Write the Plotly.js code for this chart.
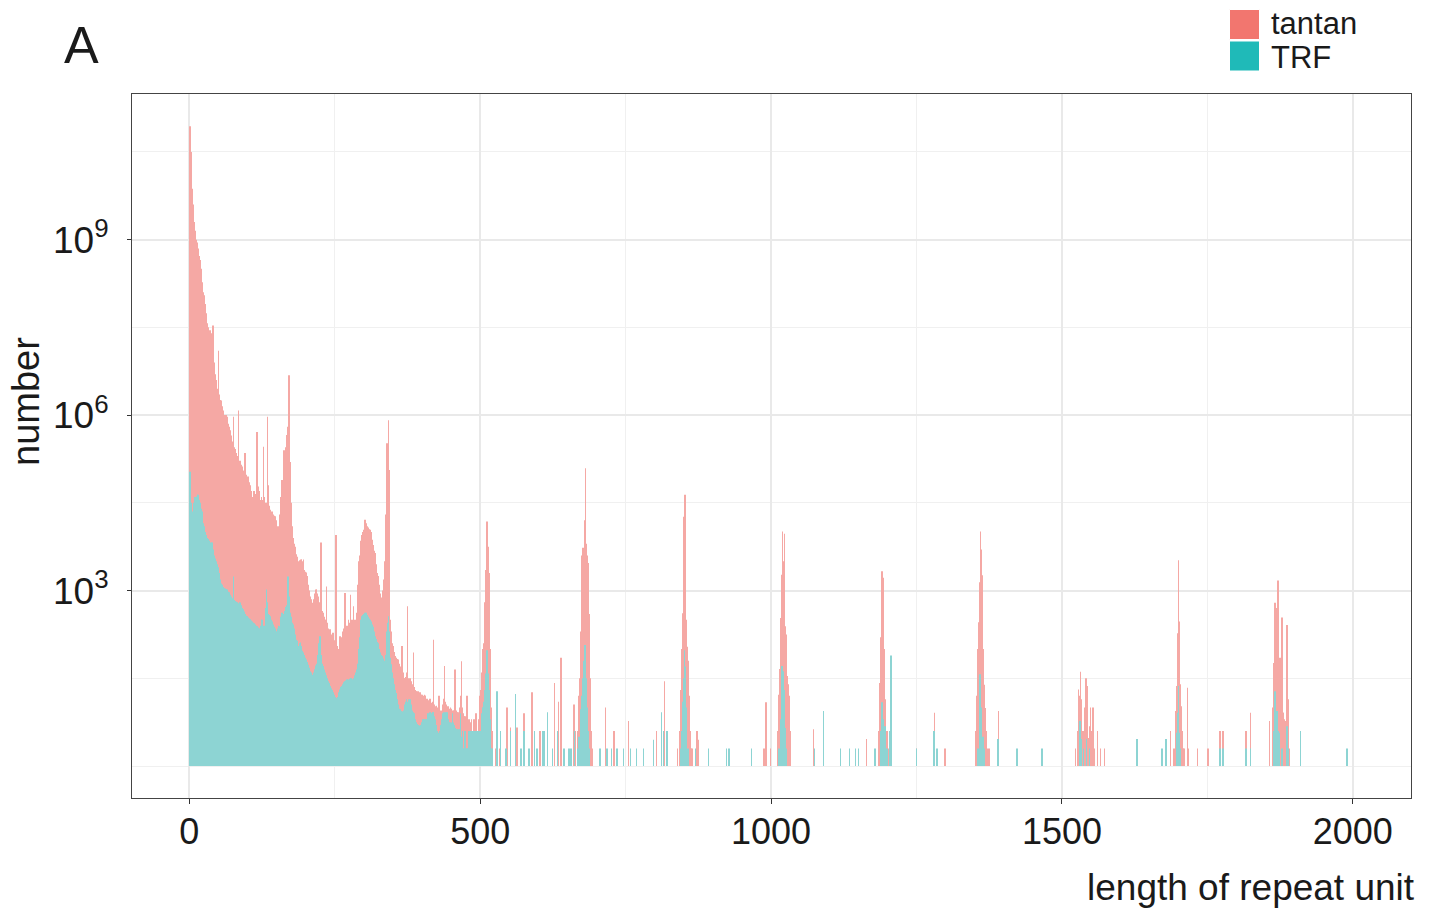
<!DOCTYPE html>
<html>
<head>
<meta charset="utf-8">
<script src="https://cdn.plot.ly/plotly-3.0.1.min.js"></script>
<style>html,body{margin:0;padding:0;background:#fff;}#chart{width:1431px;height:913px;}</style>
</head>
<body>
<div id="chart"></div>
<script>
// ---- data: log10(number) per length of repeat unit ----
// dense part: lengths 1..520 (one value per length)
const tantanDenseLog = [
10.94,10.6,10.5,10.46,9.87,9.6,9.45,9.3,9.2,9.15,
9.12,9.0,8.95,8.9,8.85,8.8,8.72,8.65,8.59,8.5,
8.4,8.27,8.2,8.1,8.05,8.0,7.9,7.8,7.74,7.65,
7.57,7.5,7.45,7.4,7.45,7.45,7.35,7.4,7.3,7.35,
7.53,7.2,6.9,6.7,6.48,6.6,6.5,6.4,6.45,7.1,
6.35,6.3,6.26,6.2,6.25,6.15,6.1,6.05,6.08,6.0,
5.95,5.9,6.0,5.95,5.97,5.9,5.85,5.8,5.78,5.74,
5.7,5.65,5.6,5.55,5.5,5.97,5.45,5.4,5.42,5.35,
5.3,5.29,5.3,5.25,6.08,5.2,5.22,5.18,5.15,5.1,
5.12,5.05,5.0,5.05,5.0,5.35,4.95,4.98,4.9,4.95,
4.9,4.95,4.85,4.8,4.75,4.7,4.6,4.55,4.6,4.65,
4.7,4.6,4.65,4.55,4.6,5.71,4.7,4.75,4.78,4.7,
4.6,4.55,4.5,4.6,4.55,4.5,4.45,5.46,4.6,4.5,
4.4,4.45,4.5,5.97,4.8,4.5,4.45,4.4,4.38,4.35,
4.3,4.35,4.3,4.25,4.3,4.28,4.25,4.27,4.2,4.15,
4.1,4.08,4.04,4.1,4.2,4.3,4.5,4.6,4.89,4.6,
4.8,5.0,5.4,5.2,5.3,5.45,5.5,5.66,5.6,5.8,
6.68,6.03,5.2,4.8,4.5,4.27,4.1,3.9,3.75,3.8,
3.78,3.75,3.7,3.62,3.58,3.55,3.5,3.47,3.5,3.52,
3.5,3.53,3.53,3.5,3.45,3.53,3.35,3.3,3.32,3.3,
3.31,3.25,3.2,3.1,3.07,3.0,2.95,2.9,2.85,2.8,
2.73,2.75,2.79,2.85,2.9,2.95,3.0,3.02,3.02,2.95,
2.9,2.85,2.8,2.75,2.7,3.82,2.7,2.65,2.62,2.6,
2.62,2.55,2.5,2.45,2.5,3.07,2.45,2.4,2.35,2.3,
2.3,2.34,2.25,2.2,2.25,2.2,2.28,2.2,2.15,2.1,
2.05,3.95,2.1,2.05,2.0,1.94,2.0,2.05,2.22,2.1,
2.15,2.2,2.25,2.3,2.2,2.35,2.4,2.96,2.4,2.35,
2.3,2.4,2.35,2.5,2.4,2.45,2.93,2.5,2.45,2.4,
2.5,2.73,2.45,2.5,2.45,2.5,2.55,2.62,2.8,3.1,
3.41,3.5,3.6,3.75,3.85,3.9,3.95,4.0,4.02,4.04,
4.1,4.21,4.16,4.15,4.12,4.1,4.08,4.06,4.05,4.04,
4.04,4.0,3.95,3.87,3.82,3.78,3.72,3.68,3.64,3.6,
3.45,3.36,3.3,3.25,3.19,3.1,3.0,2.95,2.9,2.88,
2.85,2.9,3.0,3.1,3.19,3.5,3.9,4.3,4.55,5.52,
5.0,5.91,4.6,5.06,2.5,2.4,2.3,2.2,2.1,2.05,
1.99,1.95,1.9,1.88,1.85,1.84,1.83,1.82,1.82,1.8,
1.75,1.7,1.68,1.65,1.7,2.05,1.6,1.55,1.5,1.48,
1.5,1.52,1.6,1.55,2.73,1.5,1.45,1.48,1.5,1.48,
1.45,1.42,1.4,1.38,1.94,1.35,1.32,1.3,1.3,1.28,
1.28,1.25,1.28,1.26,1.25,1.26,1.26,1.22,1.2,1.22,
1.2,1.18,1.2,1.22,1.2,1.2,1.15,1.1,1.15,1.12,
1.1,1.12,1.1,1.15,1.1,1.05,1.08,1.1,1.05,2.16,
1.05,1.0,1.02,1.0,1.03,1.0,0.98,1.0,1.2,0.95,
0.92,0.95,0.92,0.95,1.0,1.05,1.1,1.15,1.71,1.1,
1.05,1.0,0.98,1.0,1.02,1.0,0.98,0.95,1.0,0.98,
0.95,0.92,0.95,0.92,0.95,1.0,1.65,1.0,0.95,0.92,
0.9,0.92,0.9,0.95,1.0,1.2,1.1,1.79,1.0,0.92,
0.9,0.85,0.8,0.85,0.8,0.75,1.2,0.8,0.7,0.75,
0.8,0.6,0.75,0.6,0.8,0.6,0.3,0.6,0.8,0.6,
0.3,0.6,0.9,0.6,0.3,0.6,0.48,0.8,1.0,1.2,
1.3,1.45,1.6,1.8,2.0,2.1,2.27,2.8,3.0,3.35,
3.6,4.18,4.1,3.75,3.3,2.5,2.0,1.5,1.0,0.6
];
const trfDenseLog = [
5.03,4.9,4.5,4.3,4.27,4.35,4.45,4.5,4.55,4.6,
4.6,4.6,4.61,4.64,4.64,4.6,4.55,4.5,4.45,4.4,
4.38,4.35,4.25,4.15,4.1,4.05,4.0,3.97,3.95,3.93,
3.9,3.88,3.86,3.85,3.83,3.82,3.8,3.82,3.82,3.75,
3.7,3.65,3.6,3.55,3.52,3.5,3.48,3.45,3.4,3.35,
3.3,3.25,3.19,3.15,3.12,3.1,3.08,3.06,3.05,3.04,
3.03,3.03,3.02,3.02,3.02,3.0,2.98,2.97,2.95,2.93,
2.92,2.9,2.88,2.87,2.85,3.24,2.84,2.83,2.82,2.81,
2.8,2.8,2.79,2.78,2.78,2.8,2.79,2.79,2.75,2.72,
2.7,2.68,2.66,2.64,2.62,2.6,2.58,2.57,2.56,2.55,
2.54,2.53,2.52,2.51,2.5,2.49,2.48,2.47,2.46,2.45,
2.44,2.43,2.42,2.41,2.4,2.39,2.38,2.37,2.36,2.35,
2.35,2.34,2.4,2.5,2.5,2.45,2.4,2.35,2.3,2.4,
2.5,2.7,3.02,2.8,2.6,2.6,2.58,2.57,2.56,2.52,
2.5,2.47,2.44,2.42,2.4,2.38,2.35,2.32,2.3,2.28,
2.3,2.35,2.4,2.38,2.36,2.39,2.45,2.55,2.62,2.55,
2.5,2.5,2.6,2.65,2.7,2.72,2.75,2.73,2.9,3.24,
2.9,2.8,2.62,2.58,2.55,2.5,2.45,2.42,2.39,2.35,
2.3,2.25,2.2,2.16,2.14,2.12,2.05,2.05,2.08,2.1,
2.11,2.05,2.0,1.97,1.94,1.94,1.9,1.88,1.85,1.83,
1.82,1.78,1.75,1.73,1.71,1.68,1.65,1.62,1.6,1.58,
1.56,1.55,1.54,1.6,1.65,1.65,1.7,1.72,1.75,1.8,
1.9,2.0,2.1,2.15,2.22,1.9,1.8,1.75,1.72,1.7,
1.71,1.65,1.6,1.58,1.55,1.52,1.5,1.47,1.45,1.42,
1.4,1.37,1.35,1.33,1.3,1.28,1.26,1.25,1.22,1.2,
1.18,1.16,1.15,1.14,1.18,1.22,1.26,1.29,1.31,1.33,
1.35,1.37,1.38,1.4,1.42,1.43,1.44,1.45,1.46,1.47,
1.48,1.48,1.48,1.47,1.48,1.49,1.5,1.5,1.49,1.48,
1.48,1.48,1.5,1.52,1.55,1.6,1.62,1.65,1.7,1.75,
1.82,2.0,2.2,2.4,2.5,2.55,2.56,2.58,2.6,2.6,
2.61,2.62,2.62,2.6,2.62,2.58,2.55,2.53,2.52,2.51,
2.5,2.47,2.45,2.42,2.4,2.38,2.35,2.3,2.22,2.2,
2.17,2.15,2.12,2.1,2.05,2.0,1.97,1.94,1.92,1.9,
1.88,1.86,1.84,1.82,1.8,1.78,1.77,1.9,2.1,2.3,
2.45,2.56,2.3,2.0,1.85,1.78,1.74,1.71,1.6,1.5,
1.45,1.4,1.35,1.3,1.25,1.2,1.14,1.1,1.05,1.0,
0.98,0.97,0.95,0.94,0.93,0.93,0.92,0.92,0.95,1.0,
1.05,1.1,1.14,1.1,1.05,1.0,1.1,1.14,1.1,1.14,
1.05,1.0,0.95,0.92,0.92,0.9,0.85,0.8,0.5,0.75,
0.74,0.72,0.7,0.7,0.69,0.69,0.69,0.7,0.72,0.75,
0.78,0.8,0.8,0.6,0.8,0.78,0.8,0.8,0.85,0.9,
0.85,0.88,0.9,0.92,0.92,0.9,0.6,0.92,0.92,0.92,
0.85,0.8,0.75,0.7,0.65,0.6,0.6,0.57,0.3,0.6,
0.57,0.6,0.7,0.8,0.85,0.9,0.92,0.9,0.92,0.92,
0.9,0.92,0.92,0.85,0.8,0.5,0.75,0.74,0.74,0.74,
0.74,0.9,0.74,0.74,0.7,0.68,0.65,0.63,0.63,0.63,
0.3,0.63,0.6,0.63,0.63,0.9,0.5,0.3,0.3,0.6,
0.3,0.3,0.3,0.6,0.3,0.3,0.3,0.3,0.3,0.6,
0.6,0.3,0.6,0.3,0.6,0.3,0.3,0.6,0.3,0.6,
0.3,0.6,0.6,0.3,0.6,0.3,0.3,0.6,0.3,0.6,
0.6,0.8,0.9,1.0,1.0,1.1,1.2,1.3,1.4,1.58,
1.7,1.98,1.9,1.58,1.3,1.0,0.8,0.6,0.3,0.3
];
// sparse part: lengths above 520
const tantanSparseLen = [526,533,546,552,563,575,589,603,628,635,639,661,664,
668,669,670,671,672,673,674,675,676,677,678,679,680,681,682,683,684,685,686,687,688,689,690,691,692,
715,730,755,803,817,839,
843,844,845,846,847,848,849,850,851,852,853,854,855,856,857,858,859,860,861,862,
864,873,875,988,991,999,
1012,1013,1014,1015,1016,1017,1018,1019,1020,1021,1022,1023,1024,1025,1026,1027,1028,1029,1030,1031,1032,1033,
1073,1164,
1185,1186,1187,1188,1189,1190,1191,1192,1193,1194,1195,1196,1197,1198,1199,1200,1202,
1250,1281,1299,
1352,1353,1354,1355,1356,1357,1358,1359,1360,1361,1362,1363,1364,1365,1366,1367,1368,1369,1370,1372,1375,
1391,
1523,1527,1528,1529,1530,1531,1532,1533,1534,1536,1538,1539,1541,1542,1543,1545,1547,1549,1551,1553,1556,1561,1566,1573,
1687,
1693,1695,1697,1698,1699,1700,1701,1702,1703,1704,1705,1706,1707,1708,1709,1711,1716,1718,
1733,1751,1772,1777,1816,1824,
1857,1863,1864,1865,1866,1867,1868,1869,1870,1871,1872,1873,1874,1875,1876,1877,1878,1879,1880,1881,1882,1883,1884,1885,1886,1887,1888,1889,1890];
const tantanSparseLog = [0.3,0.3,1.0,0.66,0.66,0.9,1.26,0.6,1.42,1.1,1.85,1.05,0.6,
0.6,0.97,1.2,1.5,1.93,2.3,2.9,3.6,3.3,3.73,3.5,3.7,4.2,5.09,3.8,3.7,3.6,3.2,3.47,2.6,1.9,1.5,1.0,0.6,0.3,
1.0,0.6,0.77,0.6,1.45,0.3,
0.6,0.9,1.3,1.6,2.0,2.4,2.61,4.26,3.0,4.64,2.6,2.5,2.16,2.04,1.8,1.5,1.2,0.8,0.6,0.3,
0.3,0.6,0.45,0.3,1.09,0.3,
0.6,0.9,1.22,1.66,2.53,2.2,3.27,3.0,4.01,2.76,3.5,3.97,2.39,2.3,2.25,1.9,1.54,1.4,1.32,1.2,0.9,0.6,
0.63,0.46,
0.6,0.9,1.42,1.8,2.2,2.65,3.33,2.9,3.22,2.0,1.6,1.14,0.9,0.6,0.6,0.3,0.3,
0.3,0.91,0.3,
0.6,0.9,1.2,1.6,2.0,2.46,3.14,2.24,4.01,3.7,2.8,3.26,2.0,1.6,1.39,1.2,0.99,0.8,0.6,0.3,0.3,
0.94,
0.3,0.6,1.31,1.2,1.02,0.9,1.61,0.82,1.14,0.6,0.6,1.0,1.5,1.2,1.37,0.48,0.68,1.0,0.6,1.0,0.3,0.6,0.3,0.3,
0.6,
0.3,0.94,1.37,1.14,2.27,3.52,2.47,2.39,1.4,1.14,1.02,0.6,0.46,0.3,0.3,0.3,1.34,0.3,
0.3,0.3,0.6,0.6,0.6,0.91,
0.77,1.0,1.76,2.0,2.79,2.3,2.7,2.67,2.0,3.17,2.59,1.8,1.7,1.85,1.5,1.3,2.54,1.0,0.91,0.91,0.8,0.77,0.77,0.6,0.6,2.41,1.48,1.14,0.3];
const trfSparseLen = [529,535,544,552,561,570,575,584,593,598,607,610,616,624,633,644,653,656,662,667,
670,672,674,676,678,679,680,681,682,683,684,686,688,
706,718,726,735,746,758,769,781,798,812,815,821,
845,847,849,850,851,852,853,854,855,857,
870,892,923,928,966,
1014,1016,1018,1019,1020,1021,1022,1023,1025,1027,
1075,1090,1119,1135,1145,1150,1179,
1189,1191,1193,1196,1199,1204,1206,
1250,1280,1285,
1356,1358,1359,1360,1361,1362,1364,1366,
1390,1423,1466,
1531,1533,1537,1542,1547,
1629,1672,1679,
1697,1699,1700,1702,1704,
1772,1777,1816,1824,
1864,1866,1868,1870,1872,1874,1878,1887,1889,1910,
1990];
const trfSparseLog = [1.28,0.6,0.3,0.6,1.23,0.3,0.6,0.3,0.6,0.3,0.6,0.6,0.92,0.3,0.6,0.3,0.3,0.3,0.6,0.3,
0.5,0.97,1.2,1.5,1.8,1.9,2.07,1.6,1.5,1.28,1.0,0.6,0.3,
0.3,0.3,0.3,0.3,0.3,0.3,0.3,0.3,0.45,0.92,0.6,0.6,
0.3,0.6,1.1,1.5,1.98,1.7,1.3,1.0,0.6,0.3,
0.3,0.3,0.3,0.3,0.3,
0.3,0.8,1.2,1.71,1.5,1.62,1.3,1.06,0.65,0.3,
0.3,0.94,0.3,0.3,0.3,0.3,0.3,
0.6,1.09,0.8,0.68,0.3,0.6,1.89,
0.3,0.6,0.3,
0.3,0.9,1.57,1.34,1.0,0.88,0.5,0.3,
0.46,0.3,0.3,
0.77,0.46,0.3,0.46,0.3,
0.46,0.3,0.46,
0.57,0.91,1.37,0.57,0.3,
0.3,0.3,0.3,0.3,
0.6,1.28,0.94,0.94,0.6,0.57,0.3,0.68,0.3,0.6,
0.3];

const seriesNames = ['tantan', 'TRF'];
const xTickVals = [0, 500, 1000, 1500, 2000];
const xTickText = ['0', '500', '1000', '1500', '2000'];
const yTickVals = [1e3, 1e6, 1e9];
const yTickText = ['10<sup>3</sup>', '10<sup>6</sup>', '10<sup>9</sup>'];

// ---- build series (counts = 10^log) ----
function buildSeries(denseLog, sparseLen, sparseLog) {
  const x = [], y = [];
  denseLog.forEach((v, i) => { if (v > 0) { x.push(i + 1); y.push(Math.pow(10, v) - 1); } });
  const n = Math.min(sparseLen.length, sparseLog.length);
  for (let i = 0; i < n; i++) { x.push(sparseLen[i]); y.push(Math.pow(10, sparseLog[i]) - 1); }
  return {x, y};
}
const tantan = buildSeries(tantanDenseLog, tantanSparseLen, tantanSparseLog);
const trf = buildSeries(trfDenseLog, trfSparseLen, trfSparseLog);

const COL_TANTAN_BAR = '#F5A8A4', COL_TRF_BAR = '#8DD4D3';
const COL_TANTAN_KEY = '#F2766F', COL_TRF_KEY = '#1FBAB8';

const traces = [
  {type: 'bar', name: seriesNames[0], x: tantan.x, y: tantan.y, base: 1, width: 0.8,
   marker: {color: COL_TANTAN_BAR, line: {width: 0}}, showlegend: false, hoverinfo: 'x+y'},
  {type: 'bar', name: seriesNames[1], x: trf.x, y: trf.y, base: 1, width: 0.8,
   marker: {color: COL_TRF_BAR, line: {width: 0}}, showlegend: false, hoverinfo: 'x+y'}
];

// pixel -> paper helpers (plot area 132..1411 x 94..798)
const L = 132, T = 94, W = 1279, H = 704;
const PX = p => (p - L) / W;
const PY = p => (T + H - p) / H;
const FONT = 'Liberation Sans, Arial, Helvetica, sans-serif';
const TXT = '#1a1a1a';

const layout = {
  width: 1431, height: 913,
  margin: {l: L, r: 1431 - L - W, t: T, b: 913 - T - H, pad: 0},
  paper_bgcolor: '#ffffff', plot_bgcolor: '#ffffff',
  barmode: 'overlay', showlegend: false,
  font: {family: FONT, color: TXT, size: 36},
  xaxis: {
    range: [-98.5, 2100], tickmode: 'array', tickvals: xTickVals, ticktext: xTickText,
    tickfont: {size: 36, color: TXT, family: FONT},
    ticks: 'outside', ticklen: 5, tickwidth: 1, tickcolor: '#333333', ticklabelstandoff: -3,
    showgrid: true, gridcolor: '#E9E9E9', gridwidth: 1.5,
    minor: {tickmode: 'array', tickvals: [250, 750, 1250, 1750], showgrid: true, gridcolor: '#F0F0F0', gridwidth: 1, ticks: ''},
    showline: true, mirror: true, linecolor: '#444444', linewidth: 1, zeroline: false
  },
  yaxis: {
    type: 'log', range: [-0.547, 11.49], tickmode: 'array', tickvals: yTickVals, ticktext: yTickText,
    tickfont: {size: 37, color: TXT, family: FONT},
    ticks: 'outside', ticklen: 4, tickwidth: 1, tickcolor: '#333333', ticklabelstandoff: 11,
    showgrid: true, gridcolor: '#E9E9E9', gridwidth: 1.5,
    minor: {tickmode: 'array', tickvals: [1, Math.pow(10,1.5), Math.pow(10,4.5), Math.pow(10,7.5), Math.pow(10,10.5)],
            showgrid: true, gridcolor: '#F0F0F0', gridwidth: 1, ticks: ''},
    showline: true, mirror: true, linecolor: '#444444', linewidth: 1, zeroline: false
  },
  shapes: [
    {type: 'rect', xref: 'paper', yref: 'paper', x0: PX(1229.5), x1: PX(1259.5), y0: PY(39.5), y1: PY(9.5),
     fillcolor: COL_TANTAN_KEY, line: {width: 1, color: '#ffffff'}},
    {type: 'rect', xref: 'paper', yref: 'paper', x0: PX(1229.5), x1: PX(1259.5), y0: PY(71), y1: PY(41),
     fillcolor: COL_TRF_KEY, line: {width: 1, color: '#ffffff'}}
  ],
  annotations: [
    {text: 'A', xref: 'paper', yref: 'paper', x: PX(62), y: PY(45), xanchor: 'left', yanchor: 'middle',
     showarrow: false, font: {size: 52, color: TXT, family: FONT}},
    {text: 'length of repeat unit', xref: 'paper', yref: 'paper', x: PX(1417), y: PY(887), xanchor: 'right', yanchor: 'middle',
     showarrow: false, font: {size: 37, color: TXT, family: FONT}},
    {text: 'number', xref: 'paper', yref: 'paper', x: PX(26), y: PY(402), xanchor: 'center', yanchor: 'middle',
     textangle: -90, showarrow: false, font: {size: 38, color: TXT, family: FONT}},
    {text: seriesNames[0], xref: 'paper', yref: 'paper', x: PX(1269), y: PY(23), xanchor: 'left', yanchor: 'middle',
     showarrow: false, font: {size: 31, color: TXT, family: FONT}},
    {text: seriesNames[1], xref: 'paper', yref: 'paper', x: PX(1269), y: PY(57), xanchor: 'left', yanchor: 'middle',
     showarrow: false, font: {size: 31, color: TXT, family: FONT}}
  ]
};

Plotly.newPlot('chart', traces, layout, {displayModeBar: false, responsive: false});
</script>
</body>
</html>
